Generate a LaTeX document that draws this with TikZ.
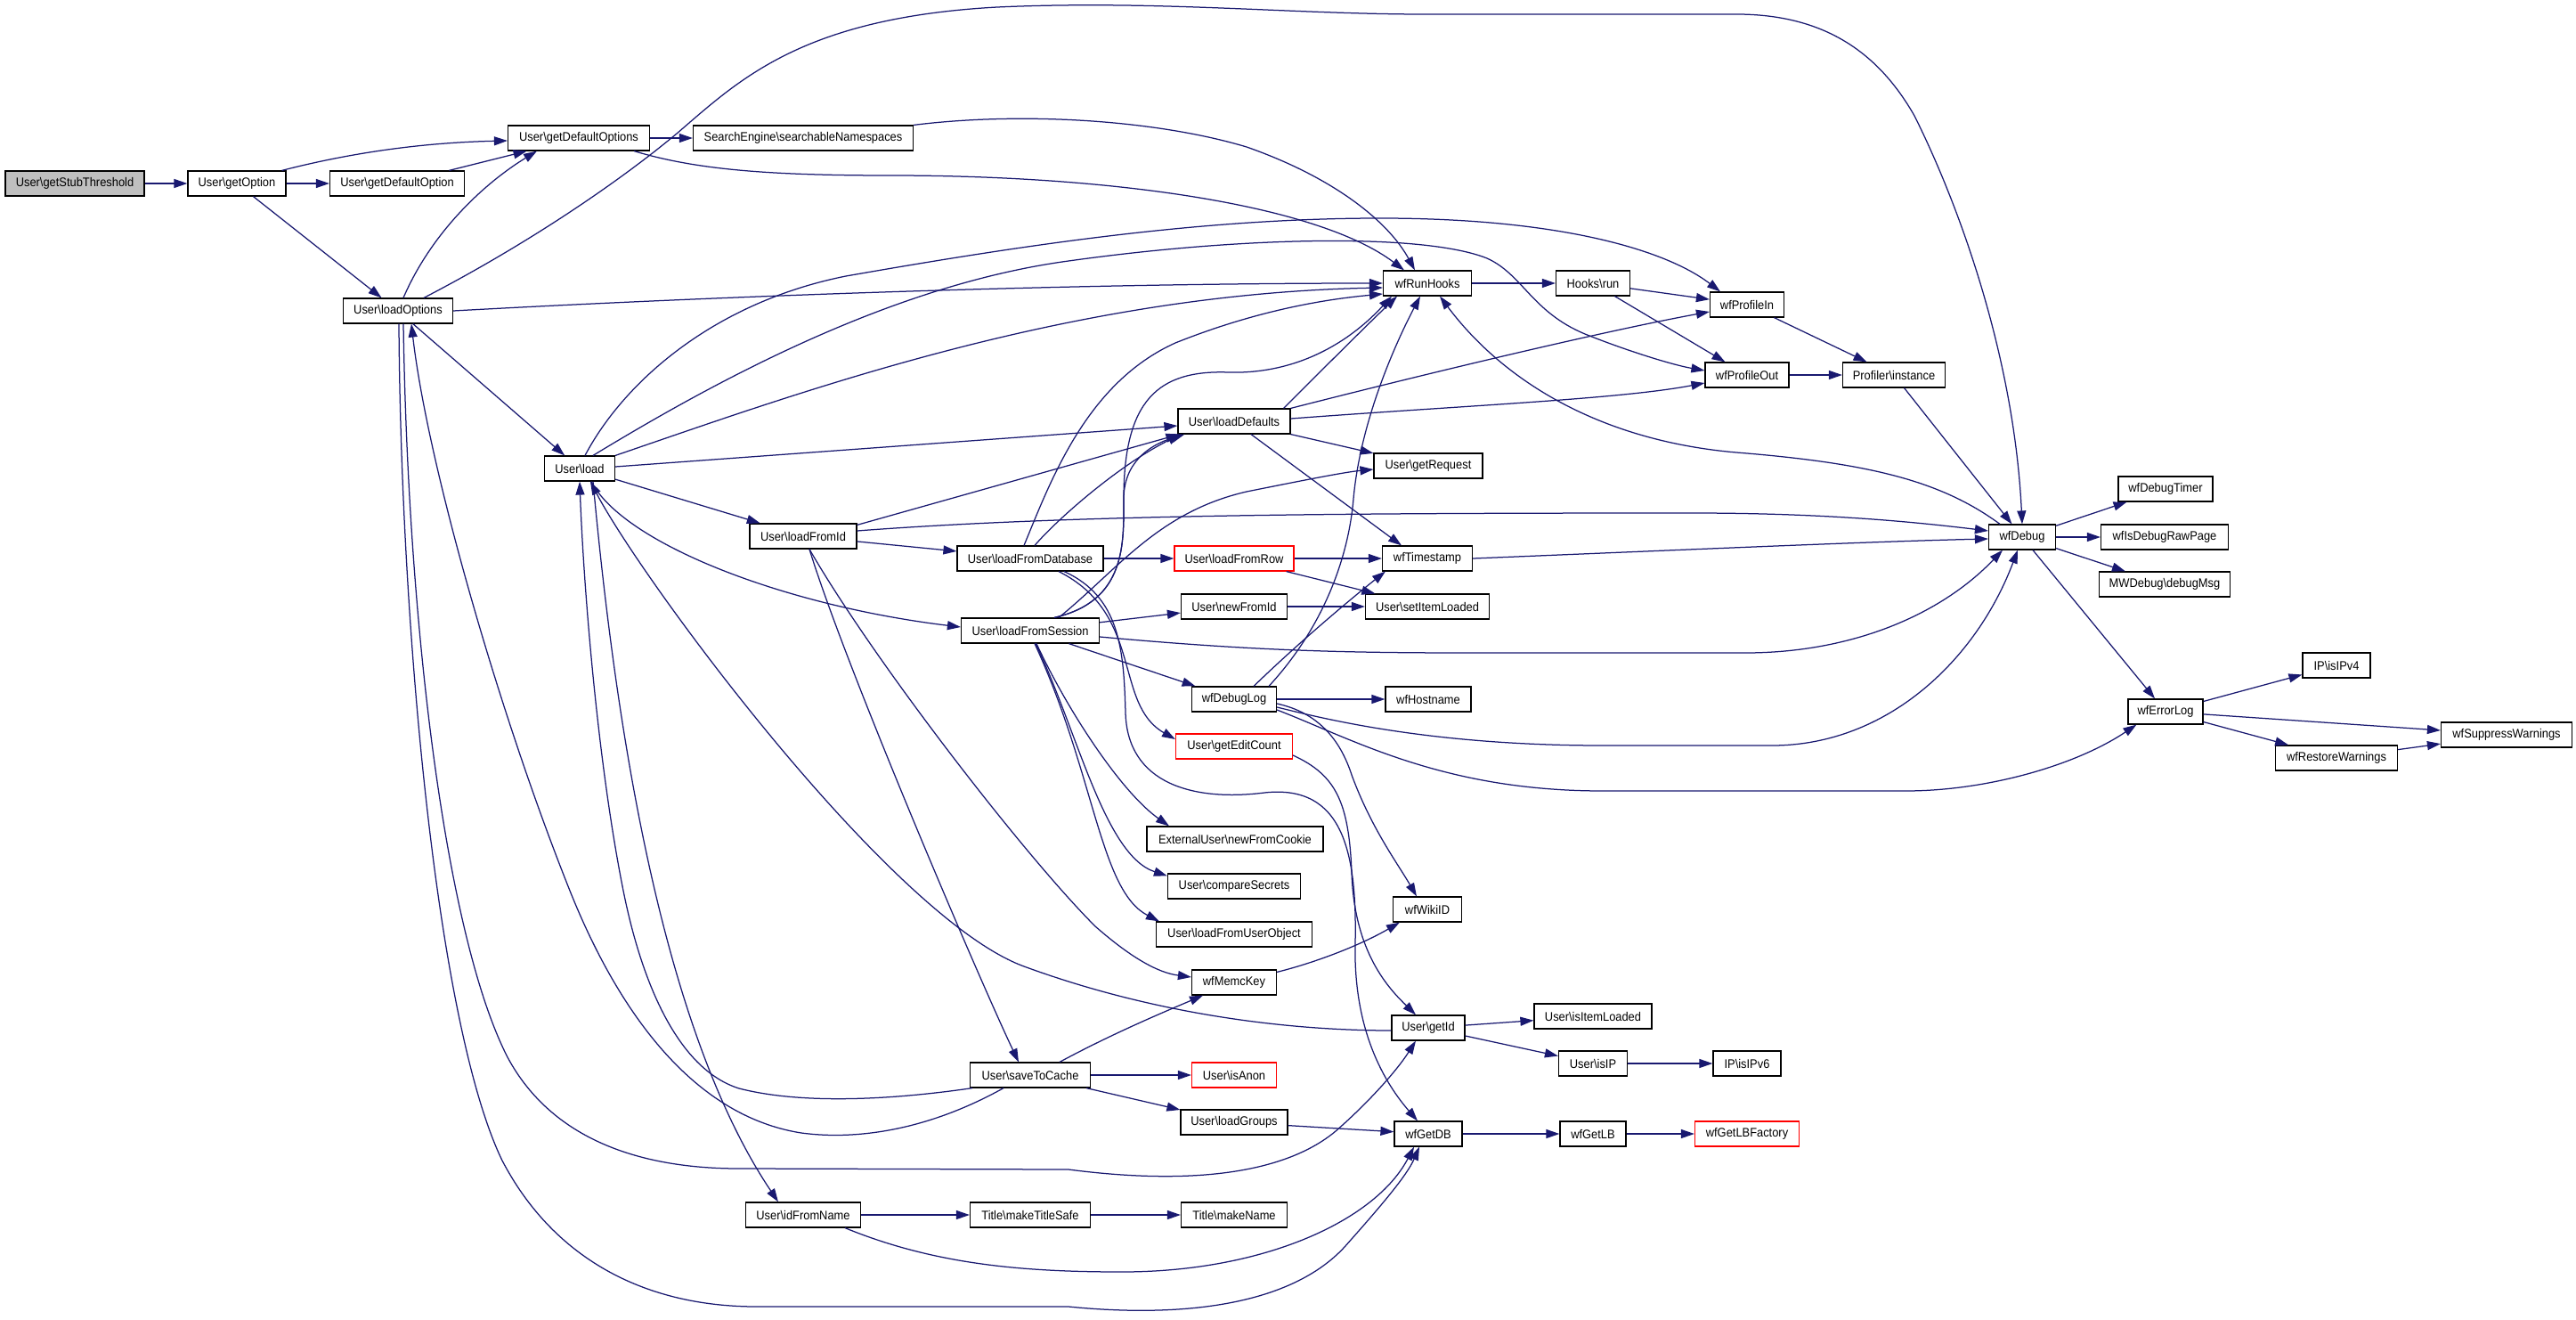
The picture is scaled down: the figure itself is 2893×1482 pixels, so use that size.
\documentclass[tikz,border=0pt]{standalone}
\usepackage{fontspec}
\setmainfont{Liberation Sans}[FakeStretch=0.92]
\usetikzlibrary{arrows.meta}
\definecolor{edgec}{HTML}{191970}
\definecolor{grayfill}{HTML}{BFBFBF}
\newcommand{\bs}{\textbackslash}
\begin{document}
\begin{tikzpicture}[x=1pt,y=-1pt,
  nd/.style={draw=black, line width=1.2pt, fill=white, minimum height=28pt, inner sep=0pt, font=\fontsize{14}{16}\selectfont},
  rd/.style={nd, draw=red},
  cn/.style={draw=edgec, line width=1.25pt, -{Triangle[length=15pt,width=10pt]}}]
\useasboundingbox (0,0) rectangle (2893,1482);
% nodes
\node[nd, fill=grayfill, minimum width=156pt] (gst) at (84,206) {User\bs getStubThreshold};
\node[nd, minimum width=110pt] (gop) at (266,206) {User\bs getOption};
\node[nd, minimum width=151pt] (gdo) at (446,206) {User\bs getDefaultOption};
\node[nd, minimum width=159pt] (gdos) at (650,155) {User\bs getDefaultOptions};
\node[nd, minimum width=247pt] (sen) at (902,155) {SearchEngine\bs searchableNamespaces};
\node[nd, minimum width=123pt] (lop) at (447,349) {User\bs loadOptions};
\node[nd, minimum width=79pt] (load) at (651,526) {User\bs load};
\node[nd, minimum width=99pt] (rh) at (1603,318) {wfRunHooks};
\node[nd, minimum width=83pt] (hr) at (1789,318) {Hooks\bs run};
\node[nd, minimum width=83pt] (pin) at (1962,342) {wfProfileIn};
\node[nd, minimum width=94pt] (pout) at (1962,421) {wfProfileOut};
\node[nd, minimum width=115pt] (pinst) at (2127,421) {Profiler\bs instance};
\node[nd, minimum width=126pt] (ldef) at (1386,473) {User\bs loadDefaults};
\node[nd, minimum width=122pt] (greq) at (1604,523) {User\bs getRequest};
\node[nd, minimum width=75pt] (dbg) at (2271,603) {wfDebug};
\node[nd, minimum width=106pt] (dtim) at (2432,549) {wfDebugTimer};
\node[nd, minimum width=143pt] (rawp) at (2431,603) {wfIsDebugRawPage};
\node[nd, minimum width=147pt] (mwd) at (2431,656) {MWDebug\bs debugMsg};
\node[nd, minimum width=120pt] (lfid) at (902,602) {User\bs loadFromId};
\node[nd, minimum width=164pt] (lfdb) at (1157,627) {User\bs loadFromDatabase};
\node[rd, minimum width=134pt] (lfrow) at (1386,627) {User\bs loadFromRow};
\node[nd, minimum width=101pt] (ts) at (1603,627) {wfTimestamp};
\node[nd, minimum width=119pt] (nfid) at (1386,681) {User\bs newFromId};
\node[nd, minimum width=139pt] (sil) at (1603,681) {User\bs setItemLoaded};
\node[nd, minimum width=155pt] (lfs) at (1157,708) {User\bs loadFromSession};
\node[nd, minimum width=95pt] (dlog) at (1386,785) {wfDebugLog};
\node[nd, minimum width=96pt] (host) at (1604,785) {wfHostname};
\node[rd, minimum width=131pt] (gec) at (1386,838) {User\bs getEditCount};
\node[nd, minimum width=84pt] (elog) at (2432,799) {wfErrorLog};
\node[nd, minimum width=76pt] (ipv4) at (2624,747) {IP\bs isIPv4};
\node[nd, minimum width=147pt] (sup) at (2815,825) {wfSuppressWarnings};
\node[nd, minimum width=137pt] (rest) at (2624,851) {wfRestoreWarnings};
\node[nd, minimum width=198pt] (enc) at (1387,942) {ExternalUser\bs newFromCookie};
\node[nd, minimum width=149pt] (cs) at (1386,995) {User\bs compareSecrets};
\node[nd, minimum width=77pt] (wiki) at (1603,1021) {wfWikiID};
\node[nd, minimum width=175pt] (lfuo) at (1386,1049) {User\bs loadFromUserObject};
\node[nd, minimum width=95pt] (memc) at (1386,1103) {wfMemcKey};
\node[nd, minimum width=82pt] (gid) at (1604,1154) {User\bs getId};
\node[nd, minimum width=132pt] (iil) at (1789,1141) {User\bs isItemLoaded};
\node[nd, minimum width=77pt] (isip) at (1789,1194) {User\bs isIP};
\node[nd, minimum width=76pt] (ipv6) at (1962,1194) {IP\bs isIPv6};
\node[nd, minimum width=135pt] (stc) at (1157,1207) {User\bs saveToCache};
\node[rd, minimum width=95pt] (anon) at (1386,1207) {User\bs isAnon};
\node[nd, minimum width=120pt] (lgr) at (1386,1260) {User\bs loadGroups};
\node[nd, minimum width=76pt] (gdb) at (1604,1273) {wfGetDB};
\node[nd, minimum width=74pt] (glb) at (1789,1273) {wfGetLB};
\node[rd, minimum width=117pt] (glbf) at (1962,1273) {wfGetLBFactory};
\node[nd, minimum width=129pt] (ifn) at (902,1364) {User\bs idFromName};
\node[nd, minimum width=135pt] (mts) at (1157,1364) {Title\bs makeTitleSafe};
\node[nd, minimum width=119pt] (mkn) at (1386,1364) {Title\bs makeName};
% edges
\draw[cn] (gst) -- (gop);
\draw[cn] (gop) -- (gdo);
\draw[cn] ([xshift=-5pt]gop.north east) .. controls (400,170) and (480,160) .. ([yshift=-3pt]gdos.west);
\draw[cn] (gop) -- (lop);
\draw[cn] (gdo) -- (gdos);
\draw[cn] (gdos) -- (sen);
\draw[cn] ([xshift=-18pt]gdos.south east) .. controls (780,190) and (860,197) .. (1000,197) .. controls (1250,197) and (1480,230) .. ([xshift=-26pt]rh.north);
\draw[cn] (sen.north east) .. controls (1150,125) and (1300,135) .. (1400,165) .. controls (1500,200) and (1560,250) .. ([xshift=-14pt]rh.north);
\draw[cn] ([xshift=6pt]lop.north) .. controls (485,260) and (545,205) .. ([xshift=-47pt]gdos.south);
\draw[cn] ([xshift=29pt]lop.north) .. controls (600,270) and (700,200) .. (760,150) .. controls (830,90) and (900,20) .. (1120,8) .. controls (1300,0) and (1450,16) .. (1600,16) -- (1950,16) .. controls (2050,16) and (2110,60) .. (2150,130) .. controls (2200,230) and (2262,400) .. (dbg.north);
\draw[cn] (lop.east) .. controls (800,333) and (1200,318) .. (rh.west);
\draw[cn] (lop) -- (load);
\draw[cn] ([xshift=6pt]lop.south) .. controls (458,700) and (500,1050) .. (570,1187) .. controls (620,1280) and (720,1312) .. (830,1312) -- (1200,1313) .. controls (1330,1330) and (1440,1320) .. (1500,1270) .. controls (1540,1235) and (1570,1200) .. ([xshift=-14pt]gid.south);
\draw[cn] ([xshift=1pt]lop.south) .. controls (450,700) and (490,1150) .. (564,1303) .. controls (620,1410) and (720,1467) .. (850,1467) -- (1200,1467) .. controls (1330,1480) and (1450,1465) .. (1510,1400) .. controls (1550,1355) and (1580,1320) .. ([xshift=-10pt]gdb.south);
\draw[cn] ([xshift=-30pt]stc.south) .. controls (1040,1270) and (960,1280) .. (900,1272) .. controls (760,1250) and (680,1100) .. (640,1000) .. controls (560,800) and (480,520) .. ([xshift=15pt]lop.south);
\draw[cn] ([xshift=3pt]stc.south west) .. controls (1000,1235) and (900,1240) .. (830,1222) .. controls (760,1200) and (720,1100) .. (700,1000) .. controls (670,850) and (655,650) .. (load.south);
\draw[cn] ([yshift=-3pt]gid.west) .. controls (1450,1157) and (1300,1140) .. (1150,1085) .. controls (1000,1030) and (720,650) .. ([xshift=12pt]load.south);
\draw[cn] ([xshift=15pt]load.south) .. controls (690,800) and (740,1150) .. ([xshift=-28pt]ifn.north);
\draw[cn] ([xshift=13pt]load.south) .. controls (700,610) and (880,680) .. ([yshift=4pt]lfs.west);
\draw[cn] (load) -- (lfid);
\draw[cn] ([yshift=2pt]load.east) -- ([yshift=-5pt]ldef.west);
\draw[cn] (load.north east) .. controls (900,440) and (1200,330) .. ([yshift=-5pt]rh.west);
\draw[cn] ([xshift=6pt]load.north) .. controls (700,430) and (800,340) .. (950,310) .. controls (1150,275) and (1350,245) .. (1550,245) .. controls (1750,245) and (1870,280) .. ([xshift=-30pt]pin.north);
\draw[cn] ([xshift=15pt]load.north) .. controls (800,430) and (1000,320) .. (1200,293) .. controls (1400,265) and (1600,262) .. (1670,290) .. controls (1710,308) and (1720,350) .. (1780,375) .. controls (1830,395) and (1880,410) .. ([yshift=5pt]pout.west);
\draw[cn] (rh) -- (hr);
\draw[cn] (hr) -- (pin);
\draw[cn] (hr) -- (pout);
\draw[cn] (pin) -- (pinst);
\draw[cn] (pout) -- (pinst);
\draw[cn] (pinst) -- (dbg);
\draw[cn] ([xshift=-25pt]dbg.north) .. controls (2180,540) and (2100,520) .. (1950,508) .. controls (1800,495) and (1690,430) .. ([xshift=14pt]rh.south);
\draw[cn] (dbg) -- (dtim);
\draw[cn] (dbg) -- (rawp);
\draw[cn] (dbg) -- (mwd);
\draw[cn] (dbg) -- (elog);
\draw[cn] (elog) -- (ipv4);
\draw[cn] (elog) -- (sup);
\draw[cn] (elog) -- (rest);
\draw[cn] (rest) -- (sup);
\draw[cn] ([xshift=-8pt]ldef.north east) .. controls (1480,420) and (1530,370) .. ([xshift=-34pt]rh.south);
\draw[cn] (ldef.north east) .. controls (1600,420) and (1800,372) .. ([yshift=-8pt]pin.west);
\draw[cn] ([yshift=3pt]ldef.east) .. controls (1650,455) and (1820,448) .. ([yshift=-9pt]pout.west);
\draw[cn] (ldef) -- (greq);
\draw[cn] ([xshift=19pt]ldef.south) -- ([xshift=-29pt]ts.north);
\draw[cn] ([yshift=-2pt]lfid.north east) -- ([xshift=2pt]ldef.south west);
\draw[cn] ([yshift=6pt]lfid.east) .. controls (1200,578) and (1500,576) .. (1900,576) .. controls (2050,576) and (2150,586) .. ([yshift=7pt]dbg.west);
\draw[cn] (lfid) -- (lfdb);
\draw[cn] ([xshift=7pt]lfid.south) .. controls (950,750) and (1100,1100) .. ([xshift=-13pt]stc.north);
\draw[cn] ([xshift=7pt]lfid.south) .. controls (980,740) and (1150,960) .. (1230,1040) .. controls (1270,1075) and (1300,1092) .. ([yshift=6pt]memc.west);
\draw[cn] ([xshift=-7pt]lfdb.north) .. controls (1180,540) and (1220,430) .. (1320,385) .. controls (1420,345) and (1500,335) .. ([yshift=-12pt]rh.west);
\draw[cn] ([xshift=5pt]lfdb.north) .. controls (1190,580) and (1260,520) .. ([xshift=4pt]ldef.south west);
\draw[cn] (lfdb) -- (lfrow);
\draw[cn] ([xshift=32pt]lfdb.south) .. controls (1285,690) and (1250,790) .. ([yshift=8pt]gec.west);
\draw[cn] ([xshift=38pt]lfdb.south) .. controls (1258,670) and (1262,730) .. (1264,800) .. controls (1266,880) and (1340,900) .. (1420,890) .. controls (1510,880) and (1524,960) .. (1522,1060) .. controls (1520,1150) and (1550,1210) .. ([xshift=-12pt]gdb.north);
\draw[cn] ([yshift=-10pt]gec.east) .. controls (1500,870) and (1515,900) .. (1518,980) .. controls (1521,1070) and (1560,1110) .. ([xshift=-14pt]gid.north);
\draw[cn] (lfrow) -- (ts);
\draw[cn] (lfrow) -- (sil);
\draw[cn] (nfid) -- (sil);
\draw[cn] (lfs) -- (nfid);
\draw[cn] ([xshift=27pt]lfs.north) .. controls (1265,675) and (1262,610) .. (1262,560) .. controls (1262,520) and (1290,500) .. ([xshift=8pt]ldef.south west);
\draw[cn] ([xshift=27pt]lfs.north) .. controls (1265,675) and (1262,610) .. (1262,560) .. controls (1262,450) and (1300,415) .. (1380,418) .. controls (1450,420) and (1510,390) .. ([xshift=-40pt]rh.south);
\draw[cn] ([xshift=32pt]lfs.north) .. controls (1255,640) and (1300,575) .. (1400,552) .. controls (1460,540) and (1510,530) .. ([yshift=-4pt]greq.west);
\draw[cn] ([yshift=-7pt]lfs.east) .. controls (1400,730) and (1500,733) .. (1650,733) -- (1960,733) .. controls (2080,733) and (2180,690) .. ([xshift=-22pt]dbg.south);
\draw[cn] (lfs) -- (dlog);
\draw[cn] ([xshift=7pt]lfs.south) .. controls (1200,800) and (1260,890) .. ([xshift=-74pt]enc.north);
\draw[cn] ([xshift=6pt]lfs.south) .. controls (1210,820) and (1240,960) .. ([yshift=-3pt]cs.north west);
\draw[cn] ([xshift=5pt]lfs.south) .. controls (1230,870) and (1235,1000) .. ([xshift=4pt]lfuo.north west);
\draw[cn] ([xshift=39pt]dlog.north) .. controls (1490,700) and (1515,620) .. (1520,560) .. controls (1528,470) and (1570,380) .. ([xshift=-8pt]rh.south);
\draw[cn] ([xshift=22pt]dlog.north) .. controls (1460,720) and (1520,670) .. ([xshift=4pt]ts.south west);
\draw[cn] (dlog) -- (host);
\draw[cn] ([yshift=-5pt]dlog.east) .. controls (1480,800) and (1505,830) .. (1518,870) .. controls (1540,930) and (1570,970) .. ([xshift=-12pt]wiki.north);
\draw[cn] ([yshift=-9pt]dlog.east) .. controls (1480,805) and (1600,837) .. (1800,837) -- (1990,837) .. controls (2120,837) and (2220,740) .. ([xshift=-5pt]dbg.south);
\draw[cn] ([yshift=-12pt]dlog.east) .. controls (1520,830) and (1620,888) .. (1800,888) -- (2140,888) .. controls (2230,888) and (2330,860) .. ([xshift=10pt]elog.south west);
\draw[cn] (ts.east) .. controls (1900,617) and (2100,608) .. ([yshift=-2pt]dbg.west);
\draw[cn] ([yshift=-3pt]memc.north east) .. controls (1480,1080) and (1530,1060) .. ([xshift=8pt]wiki.south west);
\draw[cn] ([xshift=33pt]stc.north) .. controls (1250,1160) and (1310,1135) .. ([xshift=-35pt]memc.south);
\draw[cn] (stc) -- (anon);
\draw[cn] (stc) -- (lgr);
\draw[cn] (gid) -- (iil);
\draw[cn] (gid) -- (isip);
\draw[cn] (isip) -- (ipv6);
\draw[cn] (lgr) -- (gdb);
\draw[cn] (gdb) -- (glb);
\draw[cn] (glb) -- (glbf);
\draw[cn] (ifn) -- (mts);
\draw[cn] (mts) -- (mkn);
\draw[cn] ([xshift=47pt]ifn.south) .. controls (1050,1420) and (1150,1428) .. (1260,1428) .. controls (1420,1428) and (1545,1370) .. ([xshift=-16pt]gdb.south);
\end{tikzpicture}
\end{document}
